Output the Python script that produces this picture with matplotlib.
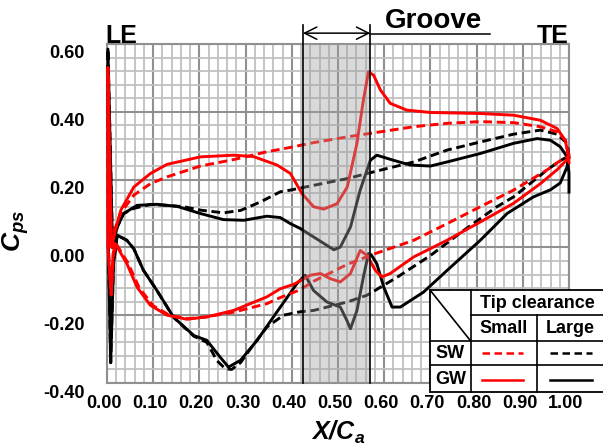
import matplotlib
matplotlib.use("Agg")
import matplotlib.pyplot as plt
import matplotlib.transforms as mtransforms
from matplotlib.ticker import MultipleLocator, FuncFormatter

plt.rcParams['font.family'] = ['Liberation Sans', 'DejaVu Sans']
plt.rcParams['axes.unicode_minus'] = False
plt.rcParams['mathtext.fontset'] = 'custom'
plt.rcParams['mathtext.bfit'] = 'Liberation Sans:bold:italic'
plt.rcParams['mathtext.it'] = 'Liberation Sans:italic'
plt.rcParams['mathtext.bf'] = 'Liberation Sans:bold'
plt.rcParams['mathtext.rm'] = 'Liberation Sans'

# ---------------- data ----------------
# SW, small tip clearance (red dashed)
sw_small_upper_x = [1.0, 0.992, 0.974, 0.938, 0.88, 0.808, 0.736, 0.664, 0.592, 0.52, 0.447, 0.397,
                    0.346, 0.274, 0.202, 0.13, 0.094, 0.058, 0.029, 0.016, 0.008, 0.002]
sw_small_upper_y = [0.27, 0.316, 0.341, 0.356, 0.368, 0.371, 0.366, 0.356, 0.341, 0.326, 0.309, 0.295,
                    0.282, 0.259, 0.24, 0.208, 0.188, 0.154, 0.1, 0.05, 0.0, 0.53]
sw_small_lower_x = [0.003, 0.009, 0.014, 0.02, 0.045, 0.07, 0.1, 0.135, 0.175, 0.216, 0.274, 0.346,
                    0.375, 0.418, 0.447, 0.52, 0.577, 0.664, 0.736, 0.808, 0.88, 0.952, 0.98, 1.0]
sw_small_lower_y = [0.0, -0.14, -0.02, 0.01, -0.045, -0.12, -0.172, -0.2, -0.21, -0.205, -0.191, -0.166,
                    -0.148, -0.125, -0.1, -0.05, -0.02, 0.021, 0.07, 0.12, 0.169, 0.228, 0.255, 0.27]

# GW, small tip clearance (red solid)
gw_small_upper_x = [1.0, 0.999, 0.992, 0.974, 0.938, 0.88, 0.808, 0.70, 0.649, 0.613, 0.592, 0.577,
                    0.566, 0.555, 0.541, 0.52, 0.498, 0.469, 0.447, 0.422, 0.397, 0.368, 0.317, 0.274,
                    0.202, 0.13, 0.094, 0.058, 0.03, 0.018, 0.01, 0.002]
gw_small_upper_y = [0.25, 0.267, 0.316, 0.351, 0.375, 0.39, 0.395, 0.398, 0.405, 0.425, 0.464, 0.508,
                    0.518, 0.435, 0.307, 0.178, 0.129, 0.113, 0.12, 0.159, 0.218, 0.243, 0.268, 0.272,
                    0.267, 0.245, 0.218, 0.178, 0.11, 0.05, 0.0, 0.53]
gw_small_lower_x = [0.002, 0.009, 0.013, 0.018, 0.043, 0.065, 0.094, 0.13, 0.173, 0.216, 0.274, 0.346,
                    0.375, 0.404, 0.44, 0.462, 0.483, 0.505, 0.527, 0.548, 0.563, 0.581, 0.595, 0.613,
                    0.664, 0.736, 0.808, 0.88, 0.938, 0.975, 1.0]
gw_small_lower_y = [0.0, -0.14, -0.02, 0.011, -0.048, -0.117, -0.171, -0.2, -0.212, -0.205, -0.186, -0.146,
                    -0.122, -0.109, -0.082, -0.077, -0.092, -0.102, -0.077, -0.009, -0.024, -0.068, -0.087, -0.077,
                    -0.028, 0.021, 0.075, 0.13, 0.188, 0.23, 0.265]

# SW, large tip clearance (black dashed)
sw_large_upper_x = [1.0, 0.996, 0.974, 0.938, 0.88, 0.808, 0.736, 0.664, 0.592, 0.52, 0.447, 0.397,
                    0.375, 0.332, 0.289, 0.252, 0.202, 0.166, 0.13, 0.094, 0.058, 0.036, 0.022, 0.012, 0.002]
sw_large_upper_y = [0.27, 0.307, 0.334, 0.346, 0.334, 0.311, 0.287, 0.252, 0.228, 0.203, 0.183, 0.169,
                    0.164, 0.134, 0.109, 0.102, 0.11, 0.12, 0.124, 0.127, 0.115, 0.1, 0.06, 0.0, 0.585]
sw_large_lower_x = [0.003, 0.008, 0.014, 0.022, 0.043, 0.058, 0.079, 0.108, 0.144, 0.188, 0.216, 0.238,
                    0.256, 0.27, 0.289, 0.31, 0.346, 0.382, 0.418, 0.447, 0.52, 0.563, 0.628, 0.70,
                    0.772, 0.844, 0.88, 0.952, 0.98, 1.0]
sw_large_lower_y = [0.0, -0.34, -0.05, 0.036, 0.021, -0.004, -0.068, -0.127, -0.206, -0.262, -0.28, -0.334,
                    -0.358, -0.36, -0.34, -0.3, -0.235, -0.2, -0.19, -0.186, -0.161, -0.141, -0.088, -0.024,
                    0.05, 0.12, 0.149, 0.228, 0.255, 0.27]

# GW, large tip clearance (black solid)
gw_large_upper_x = [1.0, 1.0, 0.996, 0.981, 0.96, 0.931, 0.88, 0.808, 0.736, 0.70, 0.656, 0.62,
                    0.584, 0.57, 0.548, 0.527, 0.505, 0.491, 0.447, 0.418, 0.397, 0.375, 0.346, 0.296,
                    0.252, 0.202, 0.152, 0.108, 0.065, 0.036, 0.022, 0.012, 0.002]
gw_large_upper_y = [0.163, 0.22, 0.267, 0.297, 0.316, 0.321, 0.307, 0.277, 0.252, 0.24, 0.243, 0.257,
                    0.272, 0.257, 0.169, 0.06, 0.001, -0.007, 0.031, 0.056, 0.07, 0.088, 0.092, 0.08,
                    0.082, 0.1, 0.121, 0.127, 0.124, 0.1, 0.06, 0.0, 0.585]
gw_large_lower_x = [0.003, 0.008, 0.014, 0.022, 0.043, 0.058, 0.079, 0.108, 0.144, 0.188, 0.216, 0.245,
                    0.263, 0.289, 0.325, 0.368, 0.411, 0.429, 0.447, 0.476, 0.505, 0.519, 0.527, 0.541,
                    0.555, 0.566, 0.572, 0.584, 0.599, 0.617, 0.635, 0.685, 0.736, 0.808, 0.866, 0.923,
                    0.96, 0.981, 0.996, 1.0]
gw_large_lower_y = [0.0, -0.34, -0.05, 0.036, 0.021, -0.004, -0.068, -0.127, -0.206, -0.26, -0.274, -0.324,
                    -0.353, -0.333, -0.274, -0.19, -0.107, -0.082, -0.127, -0.161, -0.176, -0.215, -0.24, -0.186,
                    -0.087, -0.018, -0.022, -0.048, -0.117, -0.176, -0.176, -0.132, -0.068, 0.021, 0.1, 0.149,
                    0.17, 0.19, 0.238, 0.265]

groove_start, groove_end = 0.424, 0.570
x_ticks = [0.0, 0.1, 0.2, 0.3, 0.4, 0.5, 0.6, 0.7, 0.8, 0.9, 1.0]
y_ticks = [-0.4, -0.2, 0.0, 0.2, 0.4, 0.6]

# ---------------- figure ----------------
W, H = 603, 445
fig = plt.figure(figsize=(W / 100, H / 100), dpi=100)
ax = fig.add_axes([107 / W, 1 - 383 / H, (569 - 107) / W, (383 - 44) / H])
ax.set_xlim(0, 1.0)
ax.set_ylim(-0.4, 0.6)
ax.set_xticks(x_ticks)
ax.set_yticks(y_ticks)
ax.xaxis.set_minor_locator(MultipleLocator(0.02))
ax.yaxis.set_minor_locator(MultipleLocator(0.04))
fmt = FuncFormatter(lambda v, p: f"{round(v, 2) + 0:.2f}")
ax.xaxis.set_major_formatter(fmt)
ax.yaxis.set_major_formatter(fmt)
ax.grid(which='minor', color='#c0c0c0', lw=1.3)
ax.grid(which='major', color='#909090', lw=1.5)
ax.set_axisbelow(True)
ax.tick_params(which='both', length=0)
ax.tick_params(axis='x', pad=9, labelsize=13)
ax.tick_params(axis='y', pad=16, labelsize=13)
for lab in ax.get_xticklabels() + ax.get_yticklabels():
    lab.set_fontweight('bold')
for sp in ax.spines.values():
    sp.set_color('#909090')
    sp.set_linewidth(1.5)

dash = (0, (3.0, 1.6))
lw = 2.1
ax.plot(sw_large_upper_x + sw_large_lower_x, sw_large_upper_y + sw_large_lower_y,
        color='black', lw=lw, ls=dash, zorder=3, clip_on=False)
ax.plot(gw_large_upper_x + gw_large_lower_x, gw_large_upper_y + gw_large_lower_y,
        color='black', lw=lw, zorder=3.1, clip_on=False)
ax.plot(gw_small_upper_x + gw_small_lower_x, gw_small_upper_y + gw_small_lower_y,
        color='red', lw=lw, zorder=3.2, clip_on=False)
ax.plot(sw_small_upper_x + sw_small_lower_x, sw_small_upper_y + sw_small_lower_y,
        color='red', lw=lw, ls=dash, zorder=3.3, clip_on=False)

# groove shading and markers
ax.axvspan(groove_start, groove_end, color='#a0a0a0', alpha=0.4, lw=0, zorder=4)
btr = mtransforms.blended_transform_factory(ax.transData, ax.transAxes)
for gx in (groove_start, groove_end):
    ax.plot([gx, gx], [0, 1.056], transform=btr, color='black', lw=1.2, zorder=5, clip_on=False)
ax.annotate('', xy=(groove_end, 1.032), xytext=(groove_start, 1.032), xycoords=btr, textcoords=btr,
            arrowprops=dict(arrowstyle='<->', lw=1.1, color='black', mutation_scale=22,
                            shrinkA=0, shrinkB=0), annotation_clip=False)
ax.plot([groove_end, 0.83], [1.03, 1.03], transform=btr, color='black', lw=1.1, clip_on=False)
ax.text(0.707, 1.048, 'Groove', transform=btr, ha='center', va='baseline',
        fontsize=20, fontweight='bold')
ax.text(-0.004, 1.003, 'LE', transform=ax.transAxes, ha='left', va='baseline',
        fontsize=18, fontweight='bold')
ax.text(1.0, 1.003, 'TE', transform=ax.transAxes, ha='right', va='baseline',
        fontsize=18, fontweight='bold')

ax.set_xlabel(r'$\mathbfit{X/C_a}$', fontsize=18)
ax.xaxis.set_label_coords(0.5, -0.105)
ax.set_ylabel(r'$\mathbfit{C_{ps}}$', fontsize=19)
ax.yaxis.set_label_coords(-0.165, 0.45)

# ---------------- table legend ----------------
tab = fig.add_axes([430 / W, 1 - 392 / H, 176 / W, 102 / H])
tab.set_xlim(430, 606)
tab.set_ylim(392, 290)
tab.axis('off')
tab.add_patch(plt.Rectangle((430, 290), 176, 102, facecolor='white', edgecolor='black', lw=1.3,
                            clip_on=False))
kw = dict(color='black', lw=1.2, clip_on=False)
tab.plot([470.7, 470.7], [290, 392], **kw)
tab.plot([537.3, 537.3], [315, 392], **kw)
tab.plot([470.7, 606], [315, 315], **kw)
tab.plot([430, 606], [341, 341], **kw)
tab.plot([430, 606], [365, 365], **kw)
tab.plot([430, 470.7], [290, 341], **kw)
tkw = dict(ha='center', va='center', fontsize=13, fontweight='bold')
tab.text(537, 303, 'Tip clearance', **tkw)
tab.text(504, 328.5, 'Small', **tkw)
tab.text(570, 328.5, 'Large', **tkw)
tab.text(450.5, 353.5, 'SW', **tkw)
tab.text(450.5, 379, 'GW', **tkw)
ldash = (0, (3.0, 1.8))
tab.plot([482, 523], [353, 353], color='red', lw=1.8, ls=ldash)
tab.plot([550, 592], [353, 353], color='black', lw=1.8, ls=ldash)
tab.plot([482, 523], [380, 380], color='red', lw=1.8)
tab.plot([550, 592], [380, 380], color='black', lw=1.8)

# shift tick labels slightly as in the reference
fig.canvas.draw()
off_y = mtransforms.ScaledTranslation(0, -0.08, fig.dpi_scale_trans)
off_x = mtransforms.ScaledTranslation(-0.03, 0, fig.dpi_scale_trans)
for t in ax.yaxis.get_major_ticks():
    t.label1.set_transform(t.label1.get_transform() + off_y)
for t in ax.xaxis.get_major_ticks():
    t.label1.set_transform(t.label1.get_transform() + off_x)

fig.savefig('out.png', dpi=100)
